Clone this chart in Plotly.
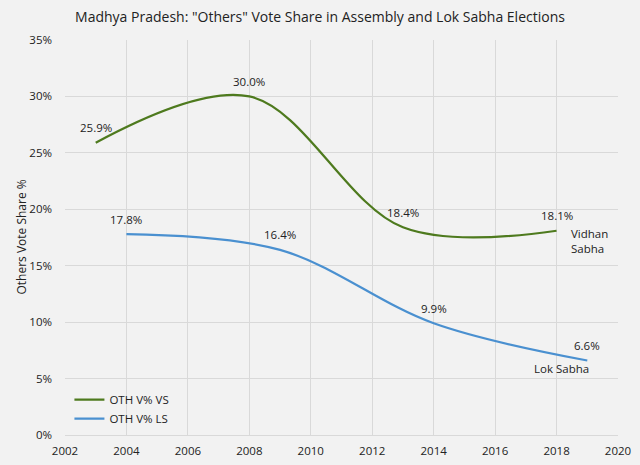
import plotly.graph_objects as go

# election years and "others" vote share (%)
vs_years = [2003, 2008, 2013, 2018]
vs_share = [25.9, 30.0, 18.4, 18.1]
ls_years = [2004, 2009, 2014, 2019]
ls_share = [17.8, 16.4, 9.9, 6.6]

x_ticks = list(range(2002, 2021, 2))
y_ticks = list(range(0, 36, 5))

font_family = "Open Sans, Noto Sans, sans-serif"
green = "#4e7a1e"
blue = "#4a90d0"
txt = "#222222"

fig = go.Figure()

fig.add_trace(go.Scatter(
    x=vs_years, y=vs_share, name="OTH V% VS", mode="lines",
    line=dict(color=green, width=2.2, shape="spline", smoothing=1.0),
))
fig.add_trace(go.Scatter(
    x=ls_years, y=ls_share, name="OTH V% LS", mode="lines",
    line=dict(color=blue, width=2.2, shape="spline", smoothing=1.0),
))

# data labels above each point
for xs, ys in [(vs_years, vs_share), (ls_years, ls_share)]:
    for xv, yv in zip(xs, ys):
        fig.add_annotation(x=xv, y=yv, text=f"{yv:.1f}%", showarrow=False,
                           yanchor="middle", yshift=15,
                           font=dict(size=11.5, color=txt))

# series labels at the right end
fig.add_annotation(x=vs_years[-1], y=vs_share[-1], text="Vidhan<br>Sabha",
                   showarrow=False, xanchor="left", yanchor="top",
                   xshift=12, yshift=7, align="left",
                   font=dict(size=11.5, color=txt))
fig.add_annotation(x=ls_years[-1], y=ls_share[-1], text="Lok Sabha",
                   showarrow=False, xanchor="right", yanchor="top",
                   xshift=4, yshift=2, font=dict(size=11.5, color=txt))

# y axis title placed by hand (axis automargin is off)
fig.add_annotation(xref="paper", yref="paper", x=-0.0795, y=0.5,
                   text="Others Vote Share %", textangle=-90, showarrow=False,
                   xanchor="center", yanchor="middle",
                   font=dict(size=12, color=txt))

fig.update_layout(
    width=640, height=465,
    margin=dict(l=65, r=22, t=40, b=30),
    paper_bgcolor="#f2f2f2",
    plot_bgcolor="#f2f2f2",
    font=dict(family=font_family, size=11, color=txt),
    title=dict(text='Madhya Pradesh: "Others" Vote Share in Assembly and Lok Sabha Elections',
               x=0.5, xanchor="center", y=0.963, yanchor="middle",
               font=dict(size=14, color=txt)),
    showlegend=True,
    legend=dict(x=0.008, y=0.005, xanchor="left", yanchor="bottom",
                bgcolor="rgba(0,0,0,0)", font=dict(size=11.5),
                itemwidth=30),
    xaxis=dict(range=[2002, 2020], tickvals=x_ticks, showgrid=True,
               gridcolor="#d9d9d9", gridwidth=1.2, zeroline=False,
               showline=True, linecolor="#d9d9d9", linewidth=1.2,
               ticks="", ticklabelstandoff=5,
               tickfont=dict(size=11.5), automargin=False),
    yaxis=dict(range=[0, 35], tickvals=y_ticks,
               ticktext=[f"{t}%" for t in y_ticks], showgrid=True,
               gridcolor="#d9d9d9", gridwidth=1.2, zeroline=False,
               showline=False, ticks="", ticklabelstandoff=12,
               tickfont=dict(size=11.5), automargin=False),
)

# drop the page's default body margin so the figure fills the window
fig.write_html("out.html", config={"displayModeBar": False},
               post_script="document.body.style.margin='0';")
